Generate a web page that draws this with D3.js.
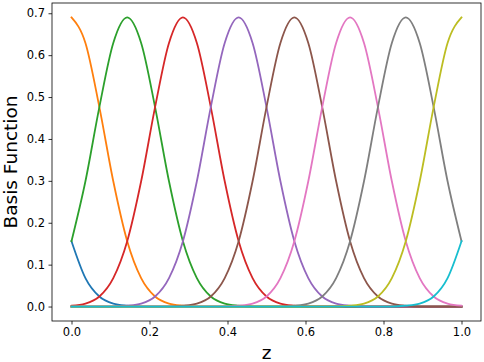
<!DOCTYPE html>
<html>
<head>
<meta charset="utf-8">
<script src="https://cdn.jsdelivr.net/npm/d3@7"></script>
<style>
  html, body { margin: 0; padding: 0; background: #fff; }
  svg { display: block; }
  text { font-family: "DejaVu Sans", sans-serif; fill: #000; }
</style>
</head>
<body>
<svg id="chart" width="484" height="362"></svg>
<script>
// x grid (z), step 1/28
const zValues = d3.range(29).map(i => i / 28);
const xTicks = [0.0, 0.2, 0.4, 0.6, 0.8, 1.0];
const yTicks = [0.0, 0.1, 0.2, 0.3, 0.4, 0.5, 0.6, 0.7];
const seriesNames = ["b0","b1","b2","b3","b4","b5","b6","b7","b8","b9"];
const seriesColors = ["#1f77b4","#ff7f0e","#2ca02c","#d62728","#9467bd","#8c564b","#e377c2","#7f7f7f","#bcbd22","#17becf"];

const b0 = [0.156,0.068,0.024,0.007,0.002,0,0,0,0,0,0,0,0,0,0,0,0,0,0,0,0,0,0,0,0,0,0,0,0];
const b1 = [0.690,0.629,0.476,0.299,0.156,0.068,0.024,0.007,0.002,0,0,0,0,0,0,0,0,0,0,0,0,0,0,0,0,0,0,0,0];
const b2 = [0.156,0.299,0.476,0.629,0.690,0.629,0.476,0.299,0.156,0.068,0.024,0.007,0.002,0,0,0,0,0,0,0,0,0,0,0,0,0,0,0,0];
const b3 = [0.002,0.007,0.024,0.068,0.156,0.299,0.476,0.629,0.690,0.629,0.476,0.299,0.156,0.068,0.024,0.007,0.002,0,0,0,0,0,0,0,0,0,0,0,0];
const b4 = [0,0,0,0,0.002,0.007,0.024,0.068,0.156,0.299,0.476,0.629,0.690,0.629,0.476,0.299,0.156,0.068,0.024,0.007,0.002,0,0,0,0,0,0,0,0];
const b5 = [0,0,0,0,0,0,0,0,0.002,0.007,0.024,0.068,0.156,0.299,0.476,0.629,0.690,0.629,0.476,0.299,0.156,0.068,0.024,0.007,0.002,0,0,0,0];
const b6 = [0,0,0,0,0,0,0,0,0,0,0,0,0.002,0.007,0.024,0.068,0.156,0.299,0.476,0.629,0.690,0.629,0.476,0.299,0.156,0.068,0.024,0.007,0.002];
const b7 = [0,0,0,0,0,0,0,0,0,0,0,0,0,0,0,0,0.002,0.007,0.024,0.068,0.156,0.299,0.476,0.629,0.690,0.629,0.476,0.299,0.156];
const b8 = [0,0,0,0,0,0,0,0,0,0,0,0,0,0,0,0,0,0,0,0,0.002,0.007,0.024,0.068,0.156,0.299,0.476,0.629,0.690];
const b9 = [0,0,0,0,0,0,0,0,0,0,0,0,0,0,0,0,0,0,0,0,0,0,0,0,0.002,0.007,0.024,0.068,0.156];
const seriesValues = [b0,b1,b2,b3,b4,b5,b6,b7,b8,b9];

const svg = d3.select("#chart");
const mLeft = 52, mRight = 481, mTop = 3, mBottom = 321;

const x = d3.scaleLinear().domain([-0.05, 1.05]).range([mLeft, mRight]);
const y = d3.scaleLinear().domain([-0.0345, 0.7245]).range([mBottom, mTop]);

const xAxis = d3.axisBottom(x).tickValues(xTicks).tickFormat(d3.format(".1f")).tickSize(3.5).tickPadding(3.5);
const yAxis = d3.axisLeft(y).tickValues(yTicks).tickFormat(d3.format(".1f")).tickSize(3.5).tickPadding(3.5);

const gx = svg.append("g").attr("transform", `translate(0,${mBottom})`).call(xAxis);
const gy = svg.append("g").attr("transform", `translate(${mLeft},0)`).call(yAxis);
[gx, gy].forEach(g => {
  g.select(".domain").remove();
  g.selectAll(".tick line").attr("stroke", "#000").attr("stroke-width", 0.8);
  g.selectAll(".tick text").style("font-family", "DejaVu Sans").style("font-size", "11.5px").attr("fill", "#000");
});

const line = d3.line().x((d, i) => x(zValues[i])).y(d => y(d)).curve(d3.curveMonotoneX);

const lines = svg.append("g");
seriesValues.forEach((vals, k) => {
  lines.append("path")
    .datum(vals)
    .attr("fill", "none")
    .attr("stroke", seriesColors[k])
    .attr("stroke-width", 1.8)
    .attr("stroke-linejoin", "round")
    .attr("stroke-linecap", "square")
    .attr("d", line);
});

svg.append("rect")
  .attr("x", mLeft).attr("y", mTop)
  .attr("width", mRight - mLeft).attr("height", mBottom - mTop)
  .attr("fill", "none").attr("stroke", "#000").attr("stroke-width", 0.8);

svg.append("text")
  .attr("x", (mLeft + mRight) / 2).attr("y", 359)
  .attr("text-anchor", "middle")
  .style("font-size", "18.5px")
  .text("z");

svg.append("text")
  .attr("transform", `translate(17,${(mTop + mBottom) / 2}) rotate(-90)`)
  .attr("text-anchor", "middle")
  .style("font-size", "18.5px")
  .text("Basis Function");
</script>
</body>
</html>
